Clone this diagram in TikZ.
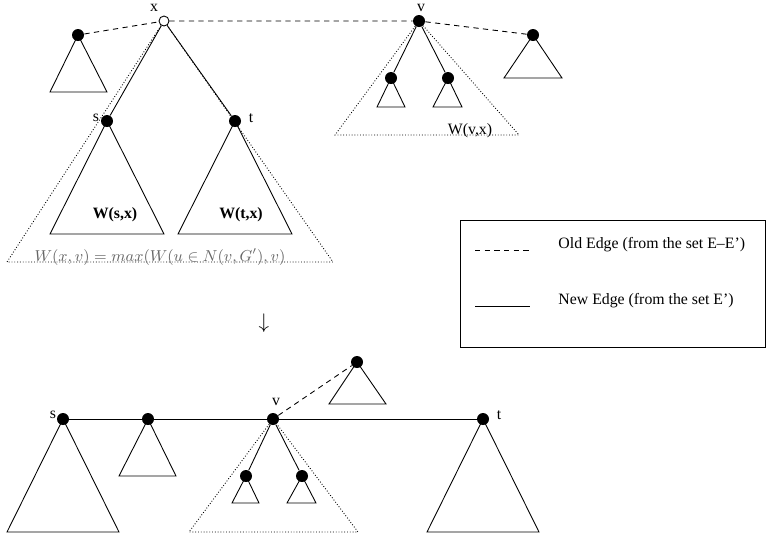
\documentclass[tikz,border=0pt]{standalone}
\usepackage{fontspec}
\setmainfont{Liberation Serif}
\begin{document}
\begin{tikzpicture}[x=0.02cm,y=-0.02cm,line width=0.5pt,
	every node/.style={font=\fontsize{9}{11}\selectfont},
	dot/.style={circle,fill,inner sep=0pt,minimum size=0.24cm},
	hollow/.style={circle,draw,inner sep=0pt,minimum size=0.2cm},
	old/.style={dash pattern=on 3pt off 2.5pt},
	subtree/.style={dash pattern=on 0.5pt off 1.1pt},
	lbl/.style={inner sep=0pt}]

		\useasboundingbox (0,0) rectangle (766,539);

		\node[hollow] (x) at (164,21) {};
		\node[dot] (l) at (78,35) {};
		\node[dot] (s) at (107,121) {};
		\node[dot] (t) at (235,121) {};
		\node[dot] (v) at (419,21) {};
		\node[dot] (va) at (391,78) {};
		\node[dot] (vb) at (448,78) {};
		\node[dot] (r) at (533,35) {};
		\node[lbl] (xname) at (154,8) {x};
		\node[lbl] (vname) at (421,8) {v};
		\node[lbl] (sname) at (96,118) {s};
		\node[lbl] (tname) at (251,118) {t};

		\draw[old] (l) -- (x) (x) -- (v) (v) -- (r);
		\draw (x) -- (s) (x) -- (t) (v) -- (va) (v) -- (vb);
		\draw (l.center) -- ++(-28,57) -- ++(57,0) -- cycle;
		\draw (s.center) -- ++(-57,113) -- ++(114,0) -- cycle;
		\draw (t.center) -- ++(-57,113) -- ++(114,0) -- cycle;
		\draw (va.center) -- ++(-14,29) -- ++(28,0) -- cycle;
		\draw (vb.center) -- ++(-15,29) -- ++(29,0) -- cycle;
		\draw (r.center) -- ++(-29,43) -- ++(58,0) -- cycle;
		\draw[subtree] (x) -- (7,262) -- (333,262) -- (x);
		\draw[subtree] (v) -- (335,135) -- (519,135) -- (v);

		\node[lbl] (wsx) at (115,215) {\bfseries W(s,x)};
		\node[lbl] (wtx) at (241,215) {\bfseries W(t,x)};
		\node[lbl,anchor=base] (wvx) at (470,134) {W(v,x)};
		\node[lbl,anchor=base,text=black!60] (wxv) at (160,261) {$W(x,v)=max(W(u\in N(v,G'),v)$};

		\node[font=\fontsize{12}{14}\selectfont] (down) at (264,323) {$\downarrow$};

		\draw (460,220) rectangle (765,347);
		\coordinate (o1) at (475,250);
		\coordinate (o2) at (530,250);
		\coordinate (n1) at (475,306);
		\coordinate (n2) at (530,306);
		\draw[old] (o1) -- (o2);
		\draw (n1) -- (n2);
		\node[lbl,anchor=west] (oldtxt) at (558,245) {Old Edge (from the set E--E')};
		\node[lbl,anchor=west] (newtxt) at (558,301) {New Edge (from the set E')};

		\node[dot] (bs) at (63,419) {};
		\node[dot] (bd) at (148,419) {};
		\node[dot] (bv) at (273,419) {};
		\node[dot] (bt) at (483,419) {};
		\node[dot] (bu) at (357,362) {};
		\node[dot] (bva) at (246,476) {};
		\node[dot] (bvb) at (302,476) {};
		\node[lbl] (bsname) at (53,415) {s};
		\node[lbl] (bvname) at (276,402) {v};
		\node[lbl] (btname) at (499,415) {t};

		\draw (bs) -- (bd) (bd) -- (bv) (bv) -- (bt);
		\draw[old] (bv) -- (bu);
		\draw (bv) -- (bva) (bv) -- (bvb);
		\draw (bs.center) -- ++(-56,113) -- ++(112,0) -- cycle;
		\draw (bd.center) -- ++(-29,57) -- ++(57,0) -- cycle;
		\draw (bu.center) -- ++(-28,42) -- ++(57,0) -- cycle;
		\draw (bva.center) -- ++(-14,27) -- ++(27,0) -- cycle;
		\draw (bvb.center) -- ++(-15,27) -- ++(29,0) -- cycle;
		\draw (bt.center) -- ++(-56,113) -- ++(112,0) -- cycle;
		\draw[subtree] (bv) -- (189,532) -- (358,532) -- (bv);
	\end{tikzpicture}
\end{document}
